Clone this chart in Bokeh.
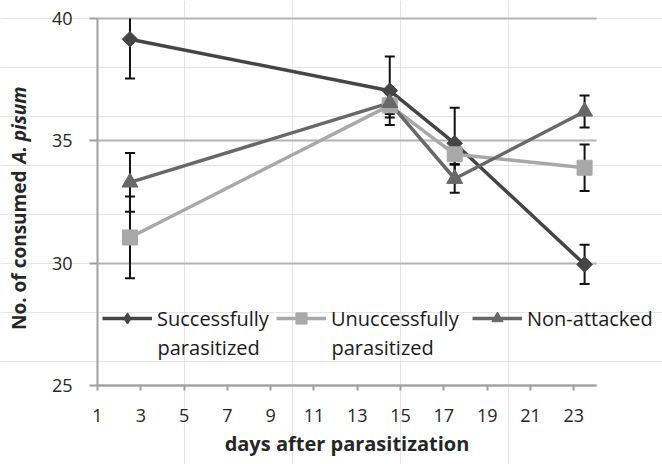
import math
from bokeh.plotting import figure
from bokeh.models import (ColumnDataSource, FixedTicker, Legend, LegendItem, Label, Range1d,
                          LinearAxis, Grid)
from bokeh.embed import file_html
from bokeh.resources import INLINE

# ---- data ----
days = [2.5, 14.5, 17.5, 23.5]
succ = [39.15, 37.05, 34.9, 29.95]
succ_err = [1.6, 1.4, 1.45, 0.8]
unsucc = [31.05, 36.45, 34.45, 33.9]
unsucc_err = [1.67, 0.5, 0.4, 0.95]
nonatt = [33.3, 36.55, 33.45, 36.2]
nonatt_err = [1.2, 0.45, 0.57, 0.65]

series_first = ["Successfully", "Unuccessfully", "Non-attacked"]
series_second = ["parasitized", "parasitized", ""]
x_ticks = [1, 3, 5, 7, 9, 11, 13, 15, 17, 19, 21, 23]
y_ticks = [25, 30, 35, 40]

# ---- layout (pixels) ----
W, H = 662, 464
PL, PR, PT, PB = 97, 596, 18, 385          # visible plot area
X_MIN, X_MAX = 1, 24.05
Y_MIN, Y_MAX = 25, 40
ppx = (PR - PL) / (X_MAX - X_MIN)
ppy = (PB - PT) / (Y_MAX - Y_MIN)
x_start = X_MIN - PL / ppx
x_end = X_MAX + (W - PR) / ppx
y_start = Y_MIN - (H - PB) / ppy
y_end = Y_MAX + PT / ppy


def px2x(px):
    return x_start + px / ppx


def py2y(py):
    return y_start + (H - py) / ppy


FONT = "Open Sans"
TXT = "#262626"
colors = ["#454545", "#a8a8a8", "#686868"]
markers = ["square", "square", "triangle"]
legend_markers = ["diamond", "square", "triangle"]
angles = [math.pi / 4, 0, 0]
msizes = [11, 15, 16]

p = figure(width=W, height=H, output_backend="svg", toolbar_location=None,
           x_range=Range1d(x_start, x_end), y_range=Range1d(y_start, y_end),
           x_axis_location=None, y_axis_location=None, min_border=0)
p.outline_line_color = None
p.background_fill_color = "white"
p.border_fill_color = "white"

xaxis = LinearAxis(fixed_location=Y_MIN, bounds=(X_MIN, X_MAX), ticker=FixedTicker(ticks=x_ticks))
yaxis = LinearAxis(fixed_location=X_MIN, bounds=(Y_MIN, Y_MAX), ticker=FixedTicker(ticks=y_ticks))
for ax in (xaxis, yaxis):
    ax.axis_line_color = "#a0a0a0"
    ax.axis_line_width = 2
    ax.major_tick_line_color = "#a0a0a0"
    ax.major_tick_line_width = 2
    ax.minor_tick_line_color = None
    ax.major_tick_in = 0
    ax.major_label_text_font = FONT
    ax.major_label_text_font_size = "18px"
    ax.major_label_text_color = TXT
xaxis.major_tick_out = 5
yaxis.major_tick_out = 8
xaxis.major_label_standoff = 18
yaxis.major_label_standoff = 17
xaxis.axis_label = "days after parasitization"
xaxis.axis_label_text_font = FONT
xaxis.axis_label_text_font_style = "bold"
xaxis.axis_label_text_font_size = "20px"
xaxis.axis_label_text_color = TXT
xaxis.axis_label_standoff = 5
p.add_layout(xaxis, "below")
p.add_layout(yaxis, "left")

grid = Grid(dimension=1, ticker=FixedTicker(ticks=y_ticks), cross_bounds=(X_MIN, X_MAX),
            grid_line_color="#b4b4b4", grid_line_width=2)
p.add_layout(grid)

# y axis label with italic species name
lab1 = Label(x=px2x(18), y=py2y(170), angle=math.pi / 2,
             text="No. of consumed", text_align="right", text_baseline="middle",
             text_font=FONT, text_font_style="bold", text_font_size="19px", text_color=TXT)
lab2 = Label(x=px2x(18), y=py2y(163), angle=math.pi / 2,
             text="A. pisum", text_align="left", text_baseline="middle",
             text_font=FONT, text_font_style="bold italic", text_font_size="19px", text_color=TXT)
p.add_layout(lab1)
p.add_layout(lab2)

all_vals = [succ, unsucc, nonatt]
all_errs = [succ_err, unsucc_err, nonatt_err]
srcs, line_rs, leg_rs = [], [], []
for i in range(3):
    vals, errs = all_vals[i], all_errs[i]
    hi_raw = [v + e for v, e in zip(vals, errs)]
    src = ColumnDataSource(dict(x=days, y=vals,
                                lo=[v - e for v, e in zip(vals, errs)],
                                hi=[min(h, Y_MAX) for h in hi_raw]))
    srcs.append((src, hi_raw))
    line_rs.append(p.line("x", "y", source=src, line_color=colors[i], line_width=3.5))

for i in range(3):
    src, hi_raw = srcs[i]
    p.segment(x0="x", y0="lo", x1="x", y1="hi", source=src, line_color="#111111", line_width=2)
    p.scatter("x", "lo", source=src, marker="dash", size=10, line_color="#111111", line_width=2)
    cap_x = [d for d, h in zip(days, hi_raw) if h <= Y_MAX]
    cap_y = [h for h in hi_raw if h <= Y_MAX]
    p.scatter(cap_x, cap_y, marker="dash", size=10, line_color="#111111", line_width=2)

for i in range(3):
    src, _ = srcs[i]
    p.scatter("x", "y", source=src, marker=markers[i], angle=angles[i], size=msizes[i],
              fill_color=colors[i], line_color=colors[i], line_width=1)
    # marker shape used for the legend swatch only
    lr = p.scatter("x", "y", source=src, marker=legend_markers[i], size=msizes[i],
                   fill_color=colors[i], line_color=colors[i], line_width=1)
    lr.visible = False
    leg_rs.append(lr)

# legend: one-line entries plus second line of the label
leg_x = [102, 276, 472]
leg_line_y = 318
for i in range(3):
    lg = Legend(items=[LegendItem(label=series_first[i], renderers=[line_rs[i], leg_rs[i]])],
                location=(leg_x[i], H - leg_line_y - 14),
                glyph_width=50, glyph_height=28, label_standoff=5,
                padding=0, margin=0, background_fill_alpha=0, border_line_alpha=0,
                inactive_fill_alpha=0,
                label_text_font=FONT, label_text_font_size="20px", label_text_color="#1a1a1a")
    p.add_layout(lg)
    if series_second[i]:
        p.add_layout(Label(x=px2x(leg_x[i] + 55), y=py2y(347), text=series_second[i],
                           text_align="left", text_baseline="middle",
                           text_font=FONT, text_font_size="20px", text_color="#1a1a1a"))

open("out.html", "w").write(file_html(p, INLINE))
